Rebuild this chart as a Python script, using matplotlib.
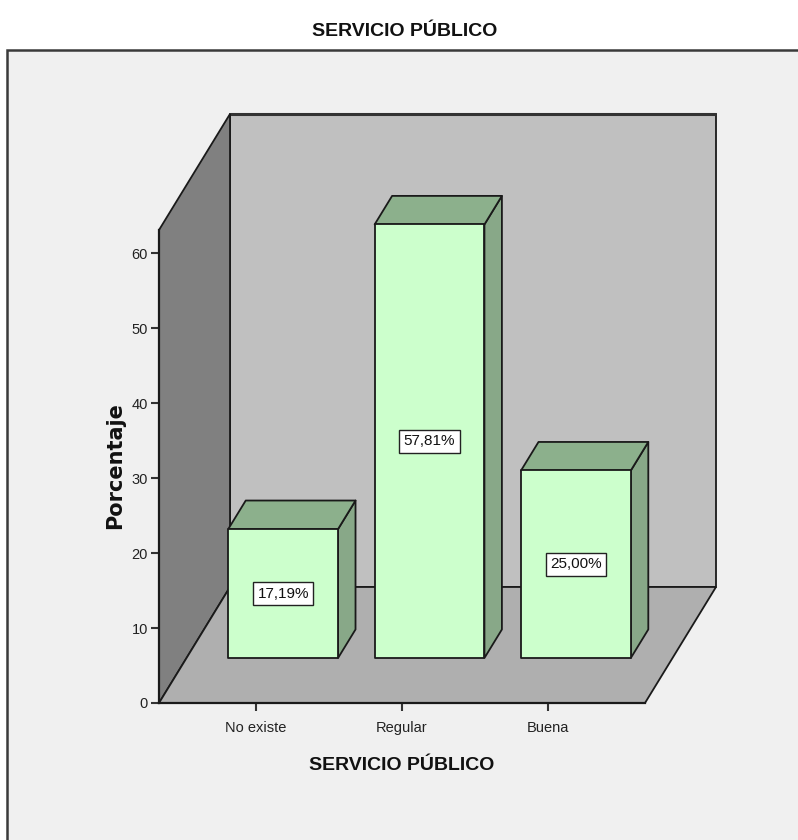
import matplotlib
matplotlib.use("Agg")
import matplotlib.pyplot as plt
from matplotlib.patches import Polygon, Rectangle

# ---- data ----
categories = ["No existe", "Regular", "Buena"]
values = [17.19, 57.81, 25.00]
value_labels = ["17,19%", "57,81%", "25,00%"]
yticks = [0, 10, 20, 30, 40, 50, 60]
title = "SERVICIO PÚBLICO"
xlabel = "SERVICIO PÚBLICO"
ylabel = "Porcentaje"

NARROW = ["Liberation Sans", "DejaVu Sans"]

# ---- geometry (data units) ----
XMIN, XMAX, YMAX = -0.66, 2.66, 63.07
DX, DY = 0.485, 15.47          # full depth of the 3D box
BAR_W = 0.75
F0, F1 = 0.388, 0.634          # bar front/back depth fractions

W, H = 798, 840
fig = plt.figure(figsize=(W / 100, H / 100), dpi=100)
fig.patch.set_facecolor("white")

# outer frame
frame = Rectangle((7 / W, -0.01), 1.0, 1 - 50 / H + 0.01, transform=fig.transFigure,
                  facecolor="#f0f0f0", edgecolor="#3a3a3a", linewidth=1.8, zorder=-5)
fig.patches.append(frame)

ax = fig.add_axes([159 / W, 137 / H, 486 / W, 473 / H])
ax.set_zorder(1)
ax.patch.set_visible(False)
ax.set_xlim(XMIN, XMAX)
ax.set_ylim(0, YMAX)

lw = 1.3
ec = "#1a1a1a"
# back wall
ax.add_patch(Polygon([(XMIN + DX, DY), (XMAX + DX, DY), (XMAX + DX, YMAX + DY), (XMIN + DX, YMAX + DY)],
                     closed=True, facecolor="#c0c0c0", edgecolor=ec, linewidth=lw, clip_on=False, zorder=1))
ax.plot([XMIN + DX, XMAX + DX], [YMAX + DY, YMAX + DY], color="#333333", lw=2.2, clip_on=False, zorder=1.1,
        solid_capstyle="butt")
# left wall
ax.add_patch(Polygon([(XMIN, 0), (XMIN, YMAX), (XMIN + DX, YMAX + DY), (XMIN + DX, DY)],
                     closed=True, facecolor="#808080", edgecolor=ec, linewidth=lw, clip_on=False, zorder=2))
# floor
ax.add_patch(Polygon([(XMIN, 0), (XMAX, 0), (XMAX + DX, DY), (XMIN + DX, DY)],
                     closed=True, facecolor="#afafaf", edgecolor=ec, linewidth=lw, clip_on=False, zorder=3))

# bars
for i, (v, lab) in enumerate(zip(values, value_labels)):
    x0 = i - BAR_W / 2
    x1 = i + BAR_W / 2
    ox0, oy0 = F0 * DX, F0 * DY
    ox1, oy1 = F1 * DX, F1 * DY
    side = [(x1 + ox0, oy0), (x1 + ox1, oy1), (x1 + ox1, v + oy1), (x1 + ox0, v + oy0)]
    top = [(x0 + ox0, v + oy0), (x1 + ox0, v + oy0), (x1 + ox1, v + oy1), (x0 + ox1, v + oy1)]
    front = [(x0 + ox0, oy0), (x1 + ox0, oy0), (x1 + ox0, v + oy0), (x0 + ox0, v + oy0)]
    ax.add_patch(Polygon(side, closed=True, facecolor="#88a888", edgecolor=ec, linewidth=lw,
                         clip_on=False, zorder=4, joinstyle="round"))
    ax.add_patch(Polygon(top, closed=True, facecolor="#8cb08c", edgecolor=ec, linewidth=lw,
                         clip_on=False, zorder=4, joinstyle="round"))
    ax.add_patch(Polygon(front, closed=True, facecolor="#ccffcc", edgecolor=ec, linewidth=lw,
                         clip_on=False, zorder=5, joinstyle="round"))
    ax.text(i + ox0, oy0 + v / 2, lab, ha="center", va="center", fontsize=11, family=NARROW,
            color="#111111", zorder=6,
            bbox=dict(boxstyle="square,pad=0.3", facecolor="white", edgecolor="#222222", linewidth=1.0))

# axes / ticks
for s in ("top", "right"):
    ax.spines[s].set_visible(False)
for s in ("left", "bottom"):
    ax.spines[s].set_linewidth(1.6)
    ax.spines[s].set_color("#1a1a1a")
    ax.spines[s].set_zorder(7)
ax.set_xticks(range(len(categories)))
ax.set_xticklabels(categories, family=NARROW, fontsize=10.5, color="#222222")
ax.set_yticks(yticks)
ax.set_yticklabels([str(t) for t in yticks], family=NARROW, fontsize=10.5, color="#222222")
ax.tick_params(axis="both", direction="out", length=6, width=1.5, color="#333333", pad=2)
ax.tick_params(axis="x", pad=7)

fig.text(405 / W, 1 - 31 / H, title, ha="center", va="center", fontsize=14, family=NARROW,
         fontweight="bold", color="#111111")
fig.text(402 / W, 1 - 766 / H, xlabel, ha="center", va="center", fontsize=14, family=NARROW,
         fontweight="bold", color="#111111")
fig.text(115 / W, 1 - 466 / H, ylabel, ha="center", va="center", fontsize=15, rotation=90,
         family=["DejaVu Sans"], fontweight="bold", color="#111111")

fig.savefig("out.png", dpi=100, facecolor=fig.get_facecolor())
